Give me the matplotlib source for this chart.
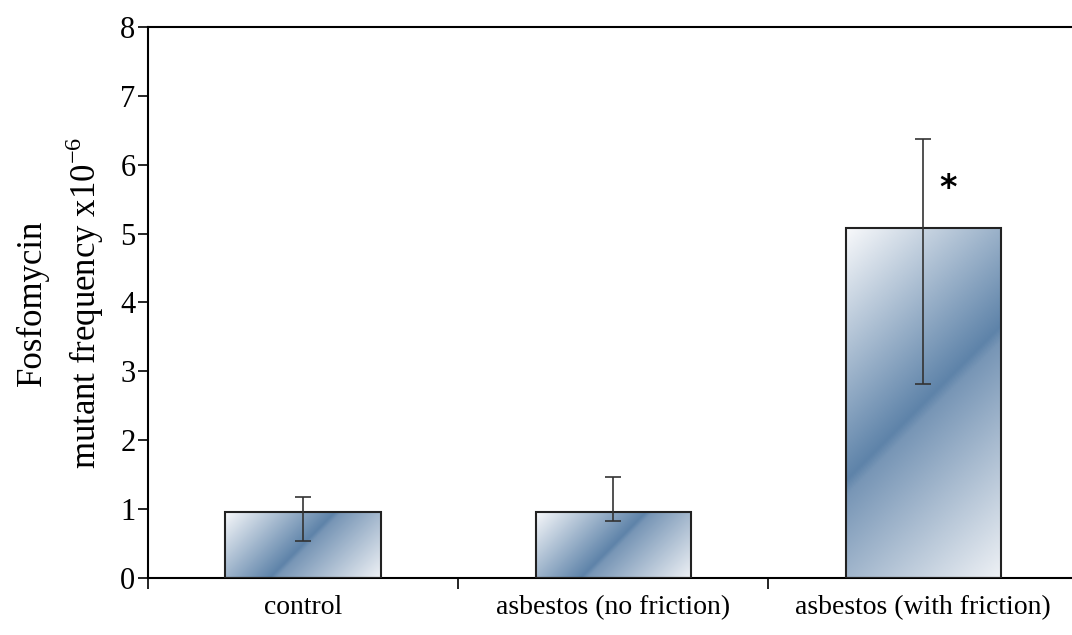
import numpy as np
import matplotlib
matplotlib.use("Agg")
import matplotlib.pyplot as plt
from matplotlib.colors import LinearSegmentedColormap
from matplotlib.patches import Rectangle

categories = ["control", "asbestos (no friction)", "asbestos (with friction)"]
values = [0.96, 0.96, 5.08]
err_low = [0.54, 0.83, 2.81]
err_high = [1.18, 1.47, 6.37]

plt.rcParams['font.family'] = ['Liberation Serif', 'DejaVu Serif']

fig = plt.figure(figsize=(10.72, 6.35), dpi=100)
ax = fig.add_axes([0.138, 0.0898, 0.862, 0.8677])

x = np.arange(len(categories))
width = 0.5

ax.set_xlim(-0.5, 2.48)
ax.set_ylim(0, 8)

# white - steel blue - white gradient, 45 degrees in screen space
cmap = LinearSegmentedColormap.from_list(
    "steel", [(0.0, "#f8f9fb"), (0.5, "#5e83a9"), (0.53, "#7896b6"), (1.0, "#eef1f5")])
px_per_x = ax.get_position().width * 1072 / (2.48 + 0.5)
px_per_y = ax.get_position().height * 635 / 8

for xi, val in zip(x, values):
    left = xi - width / 2
    w_px = width * px_per_x
    h_px = val * px_per_y
    u, v = np.meshgrid(np.linspace(0, w_px, 200), np.linspace(0, h_px, 300))
    grad = (u + v) / (w_px + h_px)
    rect = Rectangle((left, 0), width, val, facecolor="none",
                     edgecolor="#222222", linewidth=1.5, zorder=3)
    ax.add_patch(rect)
    im = ax.imshow(grad, cmap=cmap, extent=(left, left + width, 0, val),
                   aspect="auto", origin="upper", zorder=2, interpolation="bilinear")
    im.set_clip_path(rect)

yerr = [np.array(values) - np.array(err_low), np.array(err_high) - np.array(values)]
ax.errorbar(x, values, yerr=yerr, fmt="none", ecolor="#333333",
            elinewidth=1.2, capsize=6, capthick=1.2, zorder=4)

ax.text(2.08, 5.65, "*", fontsize=24, ha="center", va="center",
        family="DejaVu Sans", fontweight="bold")

ax.set_yticks(range(0, 9))
ax.tick_params(axis="y", labelsize=22, direction="out", length=7, width=1.2, pad=2)

ax.set_xticks([-0.5, 0.5, 1.5])
ax.set_xticklabels([])
ax.set_xticks(x, minor=True)
ax.set_xticklabels(categories, minor=True, fontsize=20)
ax.tick_params(axis="x", which="major", direction="out", length=8, width=1.2)
ax.tick_params(axis="x", which="minor", length=0, pad=12)

for side in ["left", "top", "bottom"]:
    ax.spines[side].set_linewidth(1.5)
ax.spines["right"].set_visible(False)

ax.set_ylabel("Fosfomycin\nmutant frequency x10$^{\\mathregular{-6}}$", fontsize=25,
              multialignment="center", labelpad=10, linespacing=1.45)

fig.savefig("out.png", dpi=100)
